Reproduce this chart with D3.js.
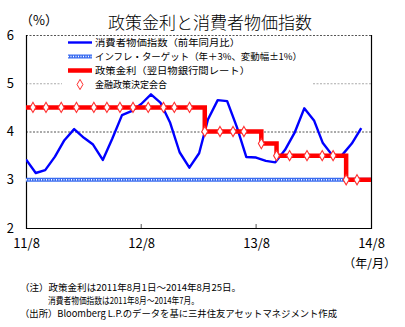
<!DOCTYPE html>
<html><head><meta charset="utf-8">
<script src="https://cdn.jsdelivr.net/npm/d3@7"></script>
<style>
body{margin:0;background:#fff;}
text{font-family:"Noto Sans CJK JP","DejaVu Sans",sans-serif;}
</style></head>
<body><svg id="c" width="405" height="327"></svg>
<script>
// ---- data ----
const cpiMonths = ["2011-08","2011-09","2011-10","2011-11","2011-12","2012-01","2012-02","2012-03","2012-04","2012-05","2012-06","2012-07","2012-08","2012-09","2012-10","2012-11","2012-12","2013-01","2013-02","2013-03","2013-04","2013-05","2013-06","2013-07","2013-08","2013-09","2013-10","2013-11","2013-12","2014-01","2014-02","2014-03","2014-04","2014-05","2014-06","2014-07"];
const cpiValues = [3.42,3.14,3.20,3.48,3.82,4.05,3.87,3.73,3.41,3.85,4.34,4.42,4.57,4.77,4.60,4.18,3.57,3.25,3.55,4.25,4.65,4.63,4.09,3.47,3.46,3.39,3.36,3.62,3.97,4.48,4.23,3.76,3.50,3.51,3.75,4.07];
const targetValue = 3.0;
const rateDates = ["2011-08-01","2013-03-08","2013-09-06","2013-10-25","2014-06-06","2014-08-25"];
const rateValues = [4.5,4.0,3.75,3.5,3.0,3.0];
const meetingDates = ["2011-09-02","2011-10-14","2011-12-02","2012-01-20","2012-03-16","2012-04-27","2012-06-08","2012-07-20","2012-09-07","2012-10-26","2012-11-30","2013-01-18","2013-03-08","2013-04-26","2013-06-07","2013-07-12","2013-09-06","2013-10-25","2013-12-06","2014-01-31","2014-03-21","2014-04-25","2014-06-06","2014-07-11"];
const yTicks = [2,3,4,5,6];
const xTickDates = ["2011-08-01","2012-08-01","2013-08-01","2014-08-01"];
const title = "政策金利と消費者物価指数";
const legendLabels = ["消費者物価指数（前年同月比）","インフレ・ターゲット（年＋3%、変動幅±1%）","政策金利（翌日物銀行間レート）","金融政策決定会合"];
const notes = ["（注）政策金利は2011年8月1日～2014年8月25日。","消費者物価指数は2011年8月～2014年7月。","（出所）Bloomberg L.P.のデータを基に三井住友アセットマネジメント作成"];

// ---- layout ----
const L=26,R=371,T=35,B=228;
const svg=d3.select("#c");
const parseM=d3.timeParse("%Y-%m"), parseD=d3.timeParse("%Y-%m-%d");
const x=d3.scaleTime().domain([parseD("2011-08-01"),parseD("2014-08-01")]).range([L,R]);
const xr=d3.scaleTime().domain([parseD("2011-08-01"),parseD("2014-08-25")]).range([L-3,R]);
const y=d3.scaleLinear().domain([2,6]).range([B,T]);

svg.append("defs").append("clipPath").attr("id","clip").append("rect").attr("x",L).attr("y",T).attr("width",R-L).attr("height",B-T);

// gridlines
svg.append("g").selectAll("line").data(yTicks.filter(d=>d>2)).join("line")
  .attr("x1",L).attr("x2",R).attr("y1",d=>y(d)+0.5).attr("y2",d=>y(d)+0.5)
  .attr("stroke",d=>d===5?"#aaa":"#555").attr("stroke-width",1).attr("stroke-dasharray","2,1.5");

// title
svg.append("text").attr("x",210).attr("y",29).attr("text-anchor","middle").attr("font-size",17).attr("font-weight",300).attr("fill","#000").text(title);
svg.append("text").attr("x",20).attr("y",25).attr("font-size",13).text("（%）");

// y axis labels
const yAxis=d3.axisLeft(y).tickValues(yTicks).tickSize(0).tickPadding(12).tickFormat(d3.format("d"));
const ga=svg.append("g").attr("transform",`translate(${L},0)`).call(yAxis);
ga.select(".domain").remove();
ga.selectAll("text").attr("font-size",13).attr("font-family","Liberation Sans, Arial, sans-serif").attr("fill","#000");

// x axis
const xAxis=d3.axisBottom(x).tickValues(xTickDates.map(parseD)).tickSize(0).tickPadding(11).tickFormat(d3.timeFormat("%y/%-m"));
const gx=svg.append("g").attr("transform",`translate(0,${B})`).call(xAxis);
gx.select(".domain").remove();
gx.selectAll("text").attr("font-size",13).attr("font-family","Liberation Sans, Arial, sans-serif").attr("fill","#000");
svg.append("g").selectAll("line").data(xTickDates.slice(1,3).map(parseD)).join("line")
  .attr("x1",d=>x(d)).attr("x2",d=>x(d)).attr("y1",B).attr("y2",B-4).attr("stroke","#555");
svg.append("text").attr("x",396).attr("y",268).attr("text-anchor","end").attr("font-size",12).text("（年/月）");

// frame
svg.append("path").attr("d",`M${L+0.5},${T}V${B+0.5}H${R+0.5}V${T}`).attr("fill","none").attr("stroke","#000").attr("stroke-width",1.2);

const plot=svg.append("g").attr("clip-path","url(#clip)");
// target line
plot.append("line").attr("x1",L).attr("x2",R).attr("y1",y(targetValue)).attr("y2",y(targetValue)).attr("stroke","#3a6cf0").attr("stroke-width",4);
plot.append("line").attr("x1",L).attr("x2",R).attr("y1",y(targetValue)).attr("y2",y(targetValue)).attr("stroke","#fff").attr("stroke-width",1.4).attr("stroke-dasharray","1,1.5");

// CPI
plot.append("path").datum(cpiValues.map((v,i)=>[parseM(cpiMonths[i]),v]))
  .attr("d",d3.line().x(d=>x(d[0])).y(d=>y(d[1])))
  .attr("fill","none").attr("stroke","#0000ff").attr("stroke-width",2.4).attr("stroke-linejoin","round");

// policy rate step
const rd=rateDates.map((d,i)=>[parseD(d),rateValues[i]]);
plot.append("path").datum(rd)
  .attr("d",d3.line().x(d=>xr(d[0])).y(d=>y(d[1])).curve(d3.curveStepAfter))
  .attr("fill","none").attr("stroke","#ff0000").attr("stroke-width",4.5);

// meetings
function rateAt(dt){let v=rateValues[0];rd.forEach(r=>{if(r[0]<=dt)v=r[1];});return v;}
const diamond=d3.symbol().type(d3.symbolDiamond).size(30);
plot.append("g").selectAll("path").data(meetingDates.map(parseD)).join("path")
  .attr("transform",d=>`translate(${xr(d)},${y(rateAt(d))})`).attr("d",diamond)
  .attr("fill","#fff").attr("stroke","#ff3030").attr("stroke-width",1.1);

// legend
const lg=svg.append("g");
lg.append("rect").attr("x",62).attr("y",37).attr("width",250).attr("height",53).attr("fill","#fff");
const ly=[42.5,56.5,70.5,84.5];
lg.append("line").attr("x1",68).attr("x2",92).attr("y1",ly[0]).attr("y2",ly[0]).attr("stroke","#0000ff").attr("stroke-width",2.4);
lg.append("line").attr("x1",68).attr("x2",92).attr("y1",ly[1]).attr("y2",ly[1]).attr("stroke","#3a6cf0").attr("stroke-width",4);
lg.append("line").attr("x1",68).attr("x2",92).attr("y1",ly[1]).attr("y2",ly[1]).attr("stroke","#fff").attr("stroke-width",1.4).attr("stroke-dasharray","1,1.5");
lg.append("line").attr("x1",68).attr("x2",92).attr("y1",ly[2]).attr("y2",ly[2]).attr("stroke","#ff0000").attr("stroke-width",4.5);
lg.append("path").attr("transform",`translate(80,${ly[3]})`).attr("d",diamond).attr("fill","#fff").attr("stroke","#ff3030");
lg.selectAll("text").data(legendLabels).join("text").attr("x",95).attr("y",(d,i)=>ly[i]+3.8).attr("font-size",9.6)
  .attr("textLength",(d,i)=>[145,207,155,72][i]).attr("lengthAdjust","spacingAndGlyphs").text(d=>d);

// notes
const noteX=[20,48,20], noteY=[291,304,317], noteW=[221,151,317];
svg.selectAll("text.note").data(notes).join("text").attr("class","note")
  .attr("x",(d,i)=>noteX[i]).attr("y",(d,i)=>noteY[i]).attr("font-size",9.5)
  .attr("textLength",(d,i)=>noteW[i]).attr("lengthAdjust","spacingAndGlyphs").text(d=>d);
</script></body></html>
